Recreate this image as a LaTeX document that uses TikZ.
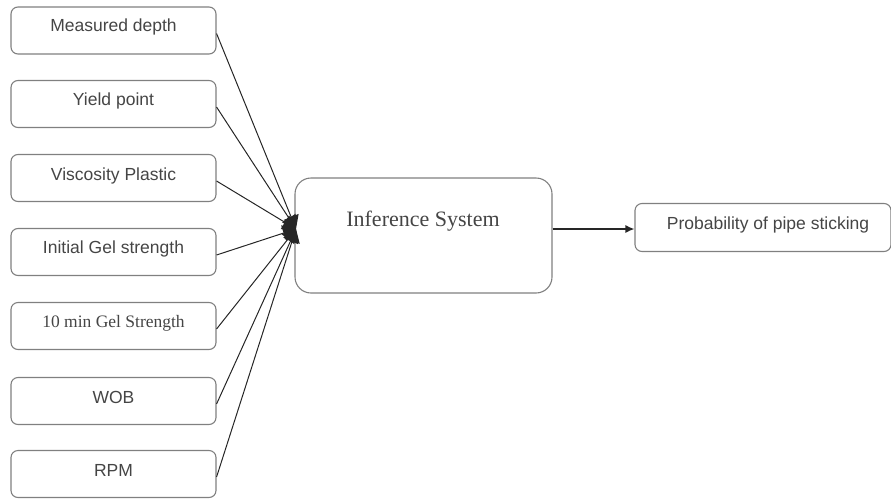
\documentclass[tikz,border=0pt]{standalone}
\usepackage{fontspec}
\setmainfont{Liberation Serif}
\newfontfamily\arialfont{Liberation Sans}
\usetikzlibrary{arrows.meta}
\definecolor{boxgray}{HTML}{808080}
\definecolor{txtgray}{HTML}{454545}
\begin{document}
\begin{tikzpicture}[x=1pt,y=-1pt,
  inbox/.style={draw=boxgray,line width=1.1pt,rounded corners=7pt,minimum width=205pt,minimum height=47pt,inner sep=0pt},
  lab/.style={text=txtgray,font=\arialfont\fontsize{17.5}{20}\selectfont,inner sep=0pt},
  serlab/.style={text=txtgray,font=\fontsize{17.5}{20}\selectfont,inner sep=0pt},
  conn/.style={draw=black!85,line width=1pt,-{Triangle[length=13pt,width=16pt]}}]
\useasboundingbox (0,0) rectangle (891,501);
% input boxes
\node[inbox] (b1) at (113.5,30.5) {};
\node[inbox] (b2) at (113.5,104) {};
\node[inbox] (b3) at (113.5,178) {};
\node[inbox] (b4) at (113.5,252) {};
\node[inbox] (b5) at (113.5,326) {};
\node[inbox] (b6) at (113.5,401) {};
\node[inbox] (b7) at (113.5,474) {};
\node[lab] (t1) at (113.5,27) {Measured depth};
\node[lab] (t2) at (113.5,101) {Yield point};
\node[lab] (t3) at (113.5,176) {Viscosity Plastic};
\node[lab] (t4) at (113.5,249) {Initial Gel strength};
\node[serlab] (t5) at (113.5,323) {10 min Gel Strength};
\node[lab] (t6) at (113.5,397) {WOB};
\node[lab] (t7) at (113.5,470) {RPM};
% inference box
\node[draw=boxgray,line width=1.1pt,rounded corners=16pt,minimum width=257pt,minimum height=115pt,inner sep=0pt] (inf) at (423.5,235.5) {};
\node[text=txtgray,font=\fontsize{22}{25}\selectfont,inner sep=0pt] (inft) at (423,221) {Inference System};
\coordinate (join) at (296,229);
% output box
\node[draw=boxgray,line width=1.1pt,rounded corners=7pt,minimum width=256pt,minimum height=48pt,inner sep=0pt] (out) at (763,227.5) {};
\node[lab] (outt) at (768,225) {Probability of pipe sticking};
% connectors
\foreach \i in {1,...,7}{\draw[conn] ([yshift=-3pt]b\i.east) -- (join);}
\draw[draw=black!85,line width=1.4pt,-{Latex[length=9pt,width=8pt]}] (inf.east |- join) -- (out.west |- join);
\end{tikzpicture}
\end{document}
